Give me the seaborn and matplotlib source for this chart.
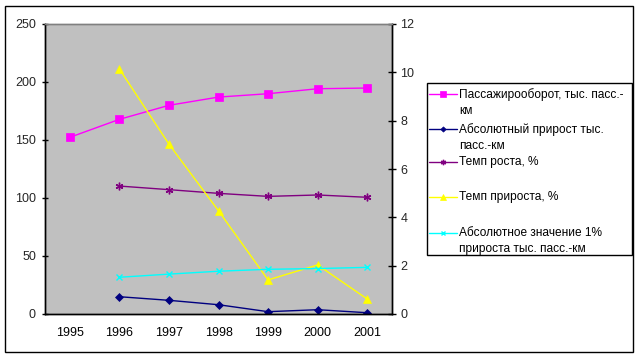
import matplotlib
matplotlib.use("Agg")
import matplotlib.pyplot as plt
import seaborn as sns
import numpy as np
import pandas as pd
from matplotlib.lines import Line2D
from matplotlib.patches import Rectangle

years = ["1995", "1996", "1997", "1998", "1999", "2000", "2001"]
turnover = [152.3, 167.8, 179.9, 187.0, 189.9, 194.2, 194.8]
abs_growth = [np.nan, 14.9, 11.8, 8.0, 2.0, 3.7, 1.1]
growth_rate = [np.nan, 110.3, 107.2, 104.0, 101.4, 102.6, 100.6]
increase_rate = [np.nan, 10.14, 7.03, 4.27, 1.41, 2.03, 0.62]
one_pct_value = [np.nan, 1.52, 1.65, 1.77, 1.85, 1.88, 1.93]

labels = ["Пассажирооборот, тыс. пасс.-\nкм",
          "Абсолютный прирост тыс.\nпасс.-км",
          "Темп роста, %",
          "Темп прироста, %",
          "Абсолютное значение 1%\nприроста тыс. пасс.-км"]

sns.set_style("white")
plt.rcParams['font.family'] = ['Liberation Sans', 'DejaVu Sans']

W, H = 641, 358
df = pd.DataFrame({"x": np.arange(len(years)),
                   "turnover": turnover, "abs_growth": abs_growth,
                   "growth_rate": growth_rate, "increase_rate": increase_rate,
                   "one_pct": one_pct_value})

fig = plt.figure(figsize=(W / 100, H / 100), dpi=100)
fig.patches.append(Rectangle((5/W, 6/H), 628/W, 346/H, transform=fig.transFigure,
                             fill=False, edgecolor="black", lw=1.0, zorder=-1))
ax = fig.add_axes([45/W, 44/H, 347/W, 290/H])
ax.set_facecolor("#c0c0c0")
ax2 = ax.twinx()

specs = [
    (ax, "turnover", "#ff00ff", "s", 5.5),
    (ax, "abs_growth", "#000080", "D", 3.8),
    (ax, "growth_rate", "#800080", (6, 2, 0), 5.5),
    (ax2, "increase_rate", "#ffff00", "^", 6),
    (ax2, "one_pct", "#00ffff", "x", 5),
]
for (a, col, color, marker, ms) in specs:
    sns.lineplot(data=df, x="x", y=col, ax=a, color=color, marker=marker,
                 markersize=ms, linewidth=1.0, markeredgecolor=color,
                 markerfacecolor=color,
                 markeredgewidth=1.0 if marker in ("x", (6, 2, 0)) else 0.5)

ax.set_xlim(-0.5, 6.5)
ax.set_ylim(0, 250)
ax2.set_ylim(0, 12)
ax.set_yticks([0, 50, 100, 150, 200, 250])
ax2.set_yticks([0, 2, 4, 6, 8, 10, 12])
ax.set_xticks(np.arange(len(years)))
ax.set_xticklabels(years)
ax.set_xticks(np.arange(-0.5, 7, 1), minor=True)
ax.tick_params(axis="x", which="major", length=0, pad=9, labelsize=9, colors="black")
ax.tick_params(axis="x", which="minor", length=5, direction="out", width=1, color="black")
ax.tick_params(axis="y", length=5, direction="inout", width=1, labelsize=9, pad=4, color="black")
ax2.tick_params(axis="y", length=6, direction="inout", width=1, labelsize=9, pad=3, color="black")
ax.set_xlabel("")
ax.set_ylabel("")
ax2.set_ylabel("")
for a in (ax, ax2):
    a.spines["top"].set_color("#808080")
    a.spines["top"].set_linewidth(1.0)
    for side in ("left", "right", "bottom"):
        a.spines[side].set_color("black")
        a.spines[side].set_linewidth(1.0)
    a.grid(False)
    if a.get_legend():
        a.get_legend().remove()

# legend box drawn by hand to match the original layout
fig.patches.append(Rectangle((427/W, 1 - 255/H), 205/W, 172/H, transform=fig.transFigure,
                             fill=True, facecolor="white", edgecolor="black", lw=1.0))
entry_y = [94.0, 128.7, 161.7, 196.7, 232.7]
for (a, col, color, marker, ms), lab, yy in zip(specs, labels, entry_y):
    fy = 1 - yy / H
    fig.lines.append(Line2D([429/W, 457/W], [fy, fy], transform=fig.transFigure,
                            color=color, lw=1.0, marker=None))
    fig.lines.append(Line2D([443/W], [fy], transform=fig.transFigure, color=color,
                            marker=marker, markersize=ms * 0.7, markeredgecolor=color,
                            markerfacecolor=color,
                            markeredgewidth=1.0 if marker in ("x", (6, 2, 0)) else 0.5))
    fig.text(459/W, 1 - (yy - 5.5) / H, lab, fontsize=8.6, va="top", ha="left",
             linespacing=1.4, color="black")

fig.savefig("out.png", dpi=100)
